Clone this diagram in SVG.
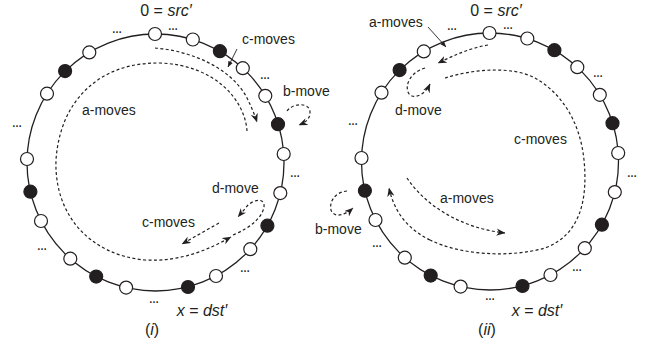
<svg xmlns="http://www.w3.org/2000/svg" width="651" height="345" viewBox="0 0 651 345">
<defs>
<style>
.ring{fill:none;stroke:#231f20;stroke-width:1.3}
.o{fill:#fff;stroke:#231f20;stroke-width:1.2}
.f{fill:#231f20;stroke:#231f20;stroke-width:1.2}
.d{fill:none;stroke:#231f20;stroke-width:1.2;stroke-dasharray:3 2.4;marker-end:url(#arr)}
.dn{fill:none;stroke:#231f20;stroke-width:1.2;stroke-dasharray:3 2.4}
.p{fill:none;stroke:#231f20;stroke-width:0.9;marker-end:url(#ptr)}
.lbl{font-family:"Liberation Sans",Arial,sans-serif;font-size:14px;fill:#231f20}
.math{font-family:"Liberation Sans",Arial,sans-serif;font-size:16px;fill:#231f20}
.dots{font-family:"Liberation Sans",Arial,sans-serif;font-size:10px;font-weight:bold;fill:#231f20;text-anchor:middle}
</style>
<marker id="arr" viewBox="0 0 10 8" markerWidth="9" markerHeight="7.5" refX="9.5" refY="4" orient="auto" markerUnits="userSpaceOnUse">
<path d="M0,0 L10,4 L0,8 L3,4 z" fill="#231f20"/>
</marker>
<marker id="ptr" viewBox="0 0 10 8" markerWidth="6" markerHeight="5" refX="9.5" refY="4" orient="auto" markerUnits="userSpaceOnUse">
<path d="M0,0 L10,4 L0,8 z" fill="#231f20"/>
</marker>
</defs>

<!-- ===== Diagram (i) ===== -->
<g id="diagram-i">
<circle class="ring" cx="155.5" cy="162.5" r="128.5"/>
<g id="connectors-i">
<path class="d" d="M155,48 C192,51 230,68 246,96 C251,106 254,113 257,122"/>
<path class="d" d="M247,131 C245,100 215,65 160,63 C100,62 60,100 56,160 C54,215 90,255 145,260 C180,262 208,250 231,237"/>
<path class="d" d="M233,235 C250,228 262,218 264,207 C265,198 255,199 248,205 L238,217"/>
<path class="d" d="M219,223 L182,244"/>
<path class="d" d="M287,111 C294,102 310,103 310,112 C310,119 306,122 299,125"/>
<path class="p" d="M237,49 L228,67"/>
</g>
<g id="n1_1"><circle class="o" cx="155" cy="34" r="6.5"/></g>
<g id="n1_2"><circle class="o" cx="192.8" cy="39.5" r="6.5"/></g>
<g id="n1_3"><circle class="f" cx="219.9" cy="51.2" r="6.5"/></g>
<g id="n1_4"><circle class="o" cx="242.8" cy="68.2" r="6.5"/></g>
<g id="n1_5"><circle class="o" cx="265.3" cy="95.8" r="6.5"/></g>
<g id="n1_6"><circle class="f" cx="278" cy="124.2" r="6.5"/></g>
<g id="n1_7"><circle class="o" cx="283.7" cy="154" r="6.5"/></g>
<g id="n1_8"><circle class="o" cx="280.3" cy="193.1" r="6.5"/></g>
<g id="n1_9"><circle class="f" cx="267.4" cy="225.7" r="6.5"/></g>
<g id="n1_10"><circle class="o" cx="250.3" cy="249.2" r="6.5"/></g>
<g id="n1_11"><circle class="o" cx="216" cy="276" r="6.5"/></g>
<g id="n1_12"><circle class="f" cx="188" cy="287" r="6.5"/></g>
<g id="n1_13"><circle class="o" cx="126.1" cy="287.6" r="6.5"/></g>
<g id="n1_14"><circle class="f" cx="96.2" cy="276.6" r="6.5"/></g>
<g id="n1_15"><circle class="o" cx="70.3" cy="258.7" r="6.5"/></g>
<g id="n1_16"><circle class="o" cx="41" cy="221" r="6.5"/></g>
<g id="n1_17"><circle class="f" cx="30.4" cy="191.7" r="6.5"/></g>
<g id="n1_18"><circle class="o" cx="27" cy="159" r="6.5"/></g>
<g id="n1_19"><circle class="o" cx="47" cy="93.7" r="6.5"/></g>
<g id="n1_20"><circle class="f" cx="65.1" cy="71.1" r="6.5"/></g>
<g id="n1_21"><circle class="o" cx="89.3" cy="52.4" r="6.5"/></g>
<g id="dots-i">
<text class="dots" x="117" y="33">…</text>
<text class="dots" x="173" y="29.5">…</text>
<text class="dots" x="265" y="79">…</text>
<text class="dots" x="17" y="127">…</text>
<text class="dots" x="295" y="177">…</text>
<text class="dots" x="42" y="250">…</text>
<text class="dots" x="245" y="272">…</text>
<text class="dots" x="154" y="303">…</text>
</g>
<text class="math" x="166" y="16" text-anchor="middle">0 = <tspan font-style="italic">src′</tspan></text>
<text class="math" x="202" y="316" text-anchor="middle"><tspan font-style="italic">x</tspan> = <tspan font-style="italic">dst′</tspan></text>
<text class="math" x="152" y="335" text-anchor="middle">(<tspan font-style="italic">i</tspan>)</text>
<text class="lbl" x="242" y="44">c-moves</text>
<text class="lbl" x="283" y="96">b-move</text>
<text class="lbl" x="82" y="115">a-moves</text>
<text class="lbl" x="212" y="193">d-move</text>
<text class="lbl" x="142" y="227">c-moves</text>
</g>

<!-- ===== Diagram (ii) ===== -->
<g id="diagram-ii">
<circle class="ring" cx="490" cy="161.5" r="128.5"/>
<g id="connectors-ii">
<path class="d" d="M488,45 C470,48 455,55 438,63"/>
<path class="d" d="M425,68 C411,72 405,84 408,92 C411,100 424,97 430,84"/>
<path class="dn" d="M445,78 C470,70 510,65 535,78 C560,92 580,120 584,160 C588,200 580,235 545,248 C510,258 460,255 430,240"/>
<path class="d" d="M430,240 C410,230 395,215 389,188"/>
<path class="d" d="M407,178 C425,205 460,228 505,233"/>
<path class="d" d="M347,191 C335,192 329,202 331,210 C334,218 344,216 353,208"/>
<path class="p" d="M428,27 L446,47"/>
</g>
<g transform="translate(334.5,-1)">
<g id="n2_1"><circle class="o" cx="155" cy="34" r="6.5"/></g>
<g id="n2_2"><circle class="o" cx="192.8" cy="39.5" r="6.5"/></g>
<g id="n2_3"><circle class="f" cx="219.9" cy="51.2" r="6.5"/></g>
<g id="n2_4"><circle class="o" cx="242.8" cy="68.2" r="6.5"/></g>
<g id="n2_5"><circle class="o" cx="265.3" cy="95.8" r="6.5"/></g>
<g id="n2_6"><circle class="f" cx="278" cy="124.2" r="6.5"/></g>
<g id="n2_7"><circle class="o" cx="283.7" cy="154" r="6.5"/></g>
<g id="n2_8"><circle class="o" cx="280.3" cy="193.1" r="6.5"/></g>
<g id="n2_9"><circle class="f" cx="267.4" cy="225.7" r="6.5"/></g>
<g id="n2_10"><circle class="o" cx="250.3" cy="249.2" r="6.5"/></g>
<g id="n2_11"><circle class="o" cx="216" cy="276" r="6.5"/></g>
<g id="n2_12"><circle class="f" cx="188" cy="287" r="6.5"/></g>
<g id="n2_13"><circle class="o" cx="126.1" cy="287.6" r="6.5"/></g>
<g id="n2_14"><circle class="f" cx="96.2" cy="276.6" r="6.5"/></g>
<g id="n2_15"><circle class="o" cx="70.3" cy="258.7" r="6.5"/></g>
<g id="n2_16"><circle class="o" cx="41" cy="221" r="6.5"/></g>
<g id="n2_17"><circle class="f" cx="30.4" cy="191.7" r="6.5"/></g>
<g id="n2_18"><circle class="o" cx="27" cy="159" r="6.5"/></g>
<g id="n2_19"><circle class="o" cx="47" cy="93.7" r="6.5"/></g>
<g id="n2_20"><circle class="f" cx="65.1" cy="71.1" r="6.5"/></g>
<g id="n2_21"><circle class="o" cx="89.3" cy="52.4" r="6.5"/></g>
</g>
<g id="dots-ii">
<text class="dots" x="452" y="30">…</text>
<text class="dots" x="508" y="28.5">…</text>
<text class="dots" x="598" y="77">…</text>
<text class="dots" x="353" y="125">…</text>
<text class="dots" x="632" y="177">…</text>
<text class="dots" x="377" y="247">…</text>
<text class="dots" x="577" y="271">…</text>
<text class="dots" x="490" y="300">…</text>
</g>
<text class="math" x="496" y="16" text-anchor="middle">0 = <tspan font-style="italic">src′</tspan></text>
<text class="math" x="537" y="316" text-anchor="middle"><tspan font-style="italic">x</tspan> = <tspan font-style="italic">dst′</tspan></text>
<text class="math" x="487" y="335" text-anchor="middle">(<tspan font-style="italic">ii</tspan>)</text>
<text class="lbl" x="369" y="27">a-moves</text>
<text class="lbl" x="395" y="115">d-move</text>
<text class="lbl" x="514" y="144">c-moves</text>
<text class="lbl" x="315" y="234">b-move</text>
<text class="lbl" x="440" y="203">a-moves</text>
</g>
</svg>
